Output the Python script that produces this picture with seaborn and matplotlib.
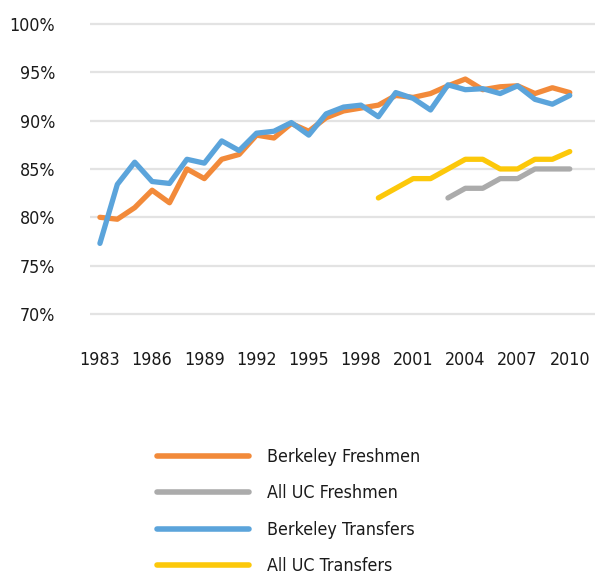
import numpy as np
import pandas as pd
import matplotlib
matplotlib.use('Agg')
import matplotlib.pyplot as plt
from matplotlib.ticker import FuncFormatter
from matplotlib import font_manager
import seaborn as sns

nan = np.nan
years = list(range(1983, 2011))
berkeley_freshmen = [80.0, 79.8, 81.0, 82.8, 81.5, 85.0, 84.0, 86.0, 86.5, 88.5,
                     88.2, 89.7, 88.9, 90.3, 91.0, 91.3, 91.6, 92.6, 92.4, 92.8,
                     93.6, 94.3, 93.2, 93.5, 93.6, 92.8, 93.4, 92.9]
uc_freshmen = [nan] * 20 + [82, 83, 83, 84, 84, 85, 85, 85]
berkeley_transfers = [77.3, 83.4, 85.7, 83.7, 83.5, 86.0, 85.6, 87.9, 86.9, 88.7,
                      88.9, 89.8, 88.5, 90.7, 91.4, 91.6, 90.4, 92.9, 92.3, 91.1,
                      93.7, 93.2, 93.3, 92.8, 93.6, 92.2, 91.7, 92.6]
uc_transfers = [nan] * 16 + [82, 83, 84, 84, 85, 86, 86, 85, 85, 86, 86, 86.8]

series = ['Berkeley Freshmen', 'All UC Freshmen', 'Berkeley Transfers', 'All UC Transfers']
colores = ['#F28A3A', '#ABABAB', '#5BA4DB', '#FCC80A']
yticks = [70, 75, 80, 85, 90, 95, 100]
xticks = list(range(1983, 2011, 3))

df = pd.DataFrame({'year': years,
                   series[0]: berkeley_freshmen,
                   series[1]: uc_freshmen,
                   series[2]: berkeley_transfers,
                   series[3]: uc_transfers})
df = df.melt(id_vars='year', var_name='serie', value_name='rate').dropna()

sns.set_style('white')
# fonte condensada se tiver, senao Roboto
condensadas = [f.name for f in font_manager.fontManager.ttflist
               if f.stretch in ('condensed', 'semi-condensed', 'extra-condensed')
               or 'Narrow' in f.name or 'Condensed' in f.name]
if 'DejaVu Sans' in condensadas:
    plt.rcParams['font.family'] = ['DejaVu Sans']
    plt.rcParams['font.stretch'] = 'condensed'
    tam = 12.8
elif condensadas:
    plt.rcParams['font.family'] = [sorted(set(condensadas))[0], 'DejaVu Sans']
    tam = 13
else:
    plt.rcParams['font.family'] = ['Roboto', 'DejaVu Sans']
    tam = 12

fig = plt.figure(figsize=(5.95, 5.77), dpi=100)
ax = fig.add_axes([90 / 595, (577 - 315.9) / 577, 505 / 595, 293.9 / 577])

sns.lineplot(data=df, x='year', y='rate', hue='serie', hue_order=series,
             palette=colores, linewidth=3.8, ax=ax, legend=False)

ax.set_xlim(1982.43, 2011.45)
ax.set_ylim(69.8, 100.2)
ax.set_yticks(yticks)
ax.set_xticks(xticks)
ax.yaxis.set_major_formatter(FuncFormatter(lambda v, p: f'{v:.0f}%'))
ax.grid(True, axis='y', color='#E3E3E3', linewidth=1.6)
ax.set_axisbelow(True)
for s in ax.spines.values():
    s.set_visible(False)
ax.tick_params(axis='y', length=0, pad=25, labelsize=tam, labelcolor='#1a1a1a')
ax.tick_params(axis='x', length=0, pad=25, labelsize=tam, labelcolor='#1a1a1a')
ax.set_xlabel('')
ax.set_ylabel('')

handles = [plt.Line2D([], [], color=c, linewidth=4) for c in colores]
fig.legend(handles, series, loc='upper left', bbox_to_anchor=(157 / 595, 1 - 448 / 577),
           frameon=False, fontsize=tam, handlelength=5.2, handletextpad=1.0,
           labelspacing=1.04, borderpad=0, borderaxespad=0, labelcolor='#1a1a1a')

fig.savefig('out.png', dpi=100)
